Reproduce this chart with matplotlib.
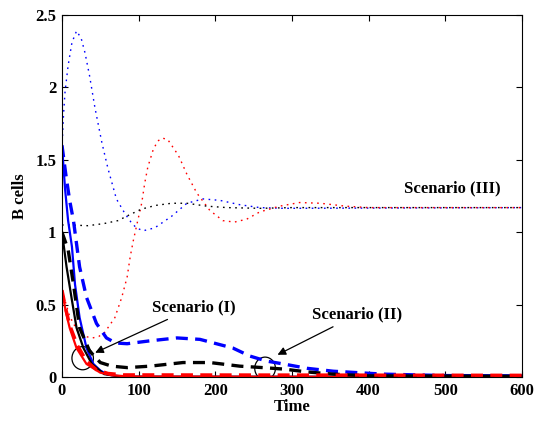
import matplotlib

matplotlib.use("Agg")
import matplotlib.pyplot as plt
from matplotlib.patches import Ellipse

plt.rcParams["font.family"] = ["Liberation Serif", "DejaVu Serif"]
plt.rcParams["font.weight"] = "bold"

# Scenario (I) - solid curves
t_solid_blue = [0, 4, 8, 13, 17, 23, 32, 41, 50, 58, 70, 80, 100, 600]
b_solid_blue = [1.6, 1.3, 1.08, 0.9, 0.64, 0.41, 0.2, 0.09, 0.045, 0.02, 0.008, 0.003, 0.001, 0.0]
t_solid_black = [0, 6, 13, 19, 28, 39, 55, 70, 90, 600]
b_solid_black = [1.0, 0.76, 0.53, 0.34, 0.2, 0.09, 0.02, 0.008, 0.002, 0.0]
t_solid_red = [0, 5, 10, 19, 32, 50, 65, 90, 600]
b_solid_red = [0.6, 0.45, 0.34, 0.2, 0.09, 0.03, 0.012, 0.003, 0.0]

# Scenario (II) - dashed curves
t_dash_blue = [0, 5, 10, 15, 23, 32, 45, 58, 70, 85, 115, 150, 180, 223, 245, 267,
               289, 320, 354, 419, 500, 600]
b_dash_blue = [1.6, 1.4, 1.22, 1.08, 0.76, 0.55, 0.37, 0.27, 0.235, 0.23, 0.25, 0.27,
               0.26, 0.2, 0.145, 0.11, 0.09, 0.06, 0.04, 0.02, 0.01, 0.008]
t_dash_black = [0, 8, 15, 23, 36, 50, 65, 85, 115, 158, 193, 232, 262, 289, 320, 354,
                400, 600]
b_dash_black = [1.0, 0.88, 0.64, 0.34, 0.18, 0.1, 0.075, 0.065, 0.075, 0.1, 0.1, 0.075,
                0.065, 0.055, 0.035, 0.02, 0.008, 0.005]
t_dash_red = [0, 5, 10, 20, 32, 45, 60, 80, 600]
b_dash_red = [0.6, 0.47, 0.36, 0.22, 0.11, 0.05, 0.025, 0.015, 0.012]

# Scenario (III) - dotted curves
t_dot_blue = [0, 2, 4, 8, 13, 19, 25, 30, 36, 43, 52, 60, 71, 82, 90, 97, 106, 121, 143,
              163, 184, 206, 232, 258, 290, 600]
b_dot_blue = [1.58, 1.81, 1.97, 2.15, 2.31, 2.39, 2.34, 2.24, 2.08, 1.86, 1.62, 1.44, 1.23,
              1.13, 1.07, 1.03, 1.01, 1.03, 1.11, 1.2, 1.23, 1.22, 1.19, 1.17, 1.165, 1.17]
t_dot_red = [0, 10, 20, 30, 40, 48, 56, 69, 78, 85, 89, 93, 98, 104, 108, 112, 119, 125,
             131, 138, 152, 163, 176, 193, 210, 225, 241, 258, 284, 310, 337, 370, 400, 600]
b_dot_red = [0.6, 0.42, 0.32, 0.28, 0.27, 0.28, 0.31, 0.41, 0.55, 0.69, 0.83, 0.94, 1.06,
             1.2, 1.34, 1.45, 1.57, 1.63, 1.65, 1.64, 1.53, 1.4, 1.27, 1.15, 1.08, 1.07,
             1.09, 1.14, 1.18, 1.205, 1.2, 1.18, 1.17, 1.17]
t_dot_black = [0, 10, 34, 55, 73, 88, 104, 122, 143, 163, 189, 215, 258, 300, 600]
b_dot_black = [1.05, 1.05, 1.045, 1.06, 1.08, 1.12, 1.16, 1.185, 1.2, 1.2, 1.18, 1.17,
               1.165, 1.17, 1.17]

fig = plt.figure(figsize=(5.47, 4.23), dpi=100)
ax = fig.add_axes([0.1133, 0.1087, 0.8407, 0.8558])

dot = (0, (1.2, 3.2))
ax.plot(t_dot_blue, b_dot_blue, color="blue", lw=1.0, linestyle=dot)
ax.plot(t_dot_red, b_dot_red, color="red", lw=1.0, linestyle=dot)
ax.plot(t_dot_black, b_dot_black, color="black", lw=1.0, linestyle=dot)

ax.plot(t_solid_blue, b_solid_blue, color="blue", lw=1.6)
ax.plot(t_solid_black, b_solid_black, color="black", lw=1.6)
ax.plot(t_solid_red, b_solid_red, color="red", lw=1.6)

dash = (0, (3.6, 2.2))
ax.plot(t_dash_blue, b_dash_blue, color="blue", lw=2.4, linestyle=dash)
ax.plot(t_dash_black, b_dash_black, color="black", lw=2.4, linestyle=dash)
ax.plot(t_dash_red, b_dash_red, color="red", lw=2.4, linestyle=dash)

# circles marking the scenarios
ax.add_patch(Ellipse((27, 0.13), 28, 0.16, fill=False, color="black", lw=0.9))
ax.add_patch(Ellipse((265, 0.06), 27, 0.155, fill=False, color="black", lw=0.9))

arrow = dict(arrowstyle="-|>", color="black", lw=0.9, mutation_scale=12)
ax.annotate("Scenario (I)", xy=(40, 0.16), xytext=(117, 0.48), fontsize=12,
            fontweight="bold", ha="left", va="center", arrowprops=arrow)
ax.annotate("Scenario (II)", xy=(278, 0.145), xytext=(326, 0.43), fontsize=12,
            fontweight="bold", ha="left", va="center", arrowprops=arrow)
ax.text(509, 1.30, "Scenario (III)", fontsize=12, fontweight="bold",
        ha="center", va="center")

ax.set_xlim(0, 600)
ax.set_ylim(0, 2.5)
ax.set_xticks(range(0, 601, 100))
ax.set_yticks([0, 0.5, 1, 1.5, 2, 2.5])
ax.set_yticklabels(["0", "0.5", "1", "1.5", "2", "2.5"])
ax.tick_params(direction="in", top=True, right=True, labelsize=12, length=4, pad=4)
for lab in ax.get_xticklabels() + ax.get_yticklabels():
    lab.set_fontweight("bold")
ax.set_xlabel("Time", fontsize=12, fontweight="bold", labelpad=0)
ax.set_ylabel("B cells", fontsize=12, fontweight="bold", labelpad=5)

fig.savefig("out.png", dpi=100)
